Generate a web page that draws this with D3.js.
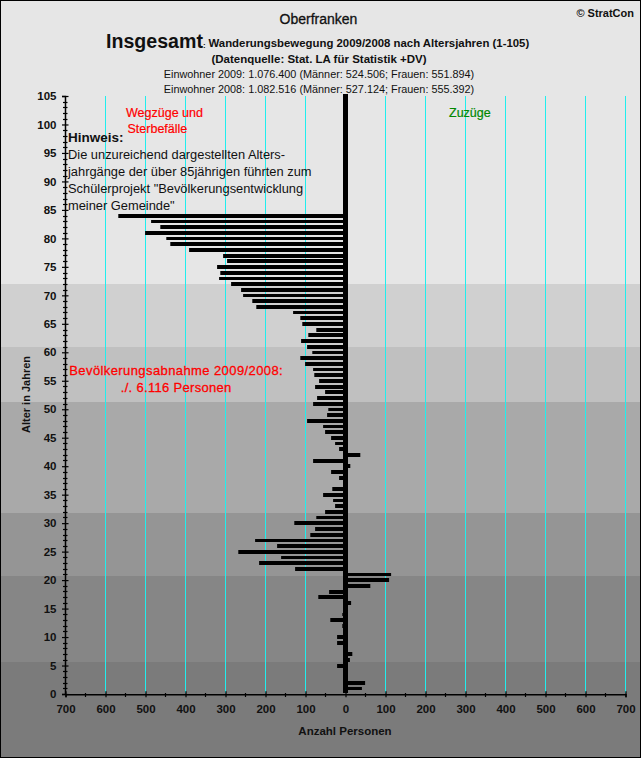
<!DOCTYPE html>
<html><head><meta charset="utf-8"><script src="https://d3js.org/d3.v7.min.js"></script>
<style>html,body{margin:0;padding:0;background:#e6e6e6;overflow:hidden}svg{display:block}text{font-family:"Liberation Sans",Arial,sans-serif}</style>
</head><body><svg id="c" width="641" height="758"></svg>
<script>
// age, value (negative = Wegzüge/Sterbefälle, positive = Zuzüge)
const ages = d3.range(1, 85);
const values = [41,49,0,0,-21,11,17,0,-21,-21,0,-8,-38,-8,0,14,-68,-41,62,109,114,-126,-216,-161,-268,-171,-226,-88,-76,-128,-73,-51,-26,-31,-56,-33,0,-16,-36,12,-81,37,-16,-26,-36,-51,-56,-96,-46,-43,-81,-71,-51,-76,-66,-78,-81,-101,-113,-83,-96,-111,-93,-73,-108,-113,-131,-223,-233,-256,-261,-286,-316,-313,-321,-296,-306,-391,-438,-448,-501,-463,-486,-568];
const bandEdges = [0,5.6,20.7,31.8,51.3,61,72,110];
const bandColors = ["#7b7b7b","#868686","#959595","#a9a9a9","#c0c0c0","#d0d0d0","#e6e6e6"];
const xMajor = d3.range(-700,701,100);
const xMinor = d3.range(-650,700,100);
const yTicks = d3.range(0,106,5);
const yMinor = d3.range(0,106,1).filter(d=>d%5);
const noteLines = ['Die unzureichend dargestellten Alters-','jahrgänge der über 85jährigen führten zum','Schülerprojekt "Bevölkerungsentwicklung','meiner Gemeinde"'];

const svg = d3.select("#c");
const x = d3.scaleLinear().domain([-700,700]).range([65.5,625.5]);
const y = d3.scaleLinear().domain([0,105]).range([694,96]);

svg.selectAll("rect.band").data(bandColors).join("rect").attr("class","band")
  .attr("x",0).attr("width",641)
  .attr("y",(d,i)=> i==bandColors.length-1?0:Math.round(y(bandEdges[i+1])))
  .attr("height",(d,i)=> (i==0?758:Math.round(y(bandEdges[i])))-(i==bandColors.length-1?0:Math.round(y(bandEdges[i+1]))))
  .attr("fill",d=>d);
svg.append("rect").attr("x",.5).attr("y",.5).attr("width",640).attr("height",757).attr("fill","none").attr("stroke","#000").attr("stroke-width",1);

svg.selectAll("line.grid").data(xMajor.filter(d=>d!=0&&d!=-700)).join("line").attr("class","grid")
  .attr("x1",d=>x(d)).attr("x2",d=>x(d)).attr("y1",y(105)).attr("y2",y(0)-1).attr("stroke","#20eeee").attr("stroke-width",1);

svg.selectAll("rect.bar").data(values).join("rect").attr("class","bar")
  .attr("x",d=>Math.min(x(0),x(d))).attr("width",d=>Math.abs(x(d)-x(0)))
  .attr("y",(d,i)=>Math.round(y(ages[i]+0.3)))
  .attr("height",(d,i)=>Math.round(y(ages[i]-0.36))-Math.round(y(ages[i]+0.3))).attr("fill","#000");
svg.append("line").attr("x1",x(0)).attr("x2",x(0)).attr("y1",94).attr("y2",693).attr("stroke","#000").attr("stroke-width",5);

const yAxis = d3.axisLeft(y).tickValues(yTicks).tickSize(3).tickPadding(5.5).tickFormat(d3.format("d"));
const ya = svg.append("g").attr("transform","translate(65,0)").call(yAxis);
ya.selectAll("text").attr("font-size",11.5).attr("font-weight","bold").attr("fill","#111");
ya.select(".domain").attr("stroke","#000").attr("stroke-width",1.5);
ya.selectAll("line").attr("stroke","#000").attr("x2",3.5).attr("x1",-3).attr("stroke-width",1.2);
svg.selectAll("line.ym").data(yMinor).join("line").attr("class","ym")
  .attr("x1",63).attr("x2",67.5).attr("y1",d=>Math.round(y(d))+.5).attr("y2",d=>Math.round(y(d))+.5).attr("stroke","#000").attr("stroke-width",1.2);

const xAxis = d3.axisBottom(x).tickValues(xMajor).tickSize(3).tickPadding(8).tickFormat(d=>Math.abs(d));
const xa = svg.append("g").attr("transform","translate(0,694.3)").call(xAxis);
xa.selectAll("text").attr("font-size",11.5).attr("font-weight","bold").attr("fill","#111");
xa.select(".domain").attr("stroke","#000").attr("stroke-width",1.5);
xa.selectAll("line").attr("stroke","#000").attr("y1",-3).attr("y2",3).attr("stroke-width",1.2);
svg.selectAll("line.xm").data(xMinor).join("line").attr("class","xm")
  .attr("x1",d=>x(d)).attr("x2",d=>x(d)).attr("y1",693).attr("y2",697).attr("stroke","#000").attr("stroke-width",1.2);

function t(s,px,py,size,opt={}){const e=svg.append("text").attr("x",px).attr("y",py).attr("font-size",size).attr("font-weight",opt.w||"normal").attr("fill",opt.c||"#111").attr("text-anchor",opt.a||"start").text(s);if(opt.rot)e.attr("transform",`rotate(-90 ${px} ${py})`);if(opt.len)e.attr("textLength",opt.len).attr("lengthAdjust","spacing");if(opt.s)e.attr("stroke",opt.c||"#111").attr("stroke-width",opt.s);return e;}
t("Oberfranken",318.5,24,14,{a:"middle",s:.3});
t("© StratCon",634,17,11,{a:"end",w:"bold"});
t("Insgesamt",106,47.5,19.6,{w:"bold"});
t(":",203,47.5,8,{w:"bold"});
t("Wanderungsbewegung 2009/2008 nach Altersjahren (1-105)",208.5,47,11.4,{w:"bold"});
t("(Datenquelle: Stat. LA für Statistik +DV)",319,63,11.5,{a:"middle",w:"bold"});
t("Einwohner 2009: 1.076.400 (Männer: 524.506; Frauen: 551.894)",319,78,10.85,{a:"middle"});
t("Einwohner 2008: 1.082.516 (Männer: 527.124; Frauen: 555.392)",319,93,10.85,{a:"middle"});
t("Wegzüge und",126,117,12.5,{c:"#f00",s:.2});
t("Sterbefälle",127.5,133,12.5,{c:"#f00",s:.2});
t("Zuzüge",449,117,12.5,{c:"#080",s:.2});
t("Hinweis:",68,142,13.5,{w:"bold"});
noteLines.forEach((l,i)=>t(l,68,159+i*17,12.85));
t("Bevölkerungsabnahme 2009/2008:",69.3,375,13,{c:"#f00",len:213.4,s:.3});
t("./. 6.116 Personen",120.7,392,13,{c:"#f00",len:110.6,s:.3});
t("Alter in Jahren",29.5,433,11,{w:"bold",rot:true});
t("Anzahl Personen",345,735,11.5,{w:"bold",a:"middle"});
</script></body></html>
